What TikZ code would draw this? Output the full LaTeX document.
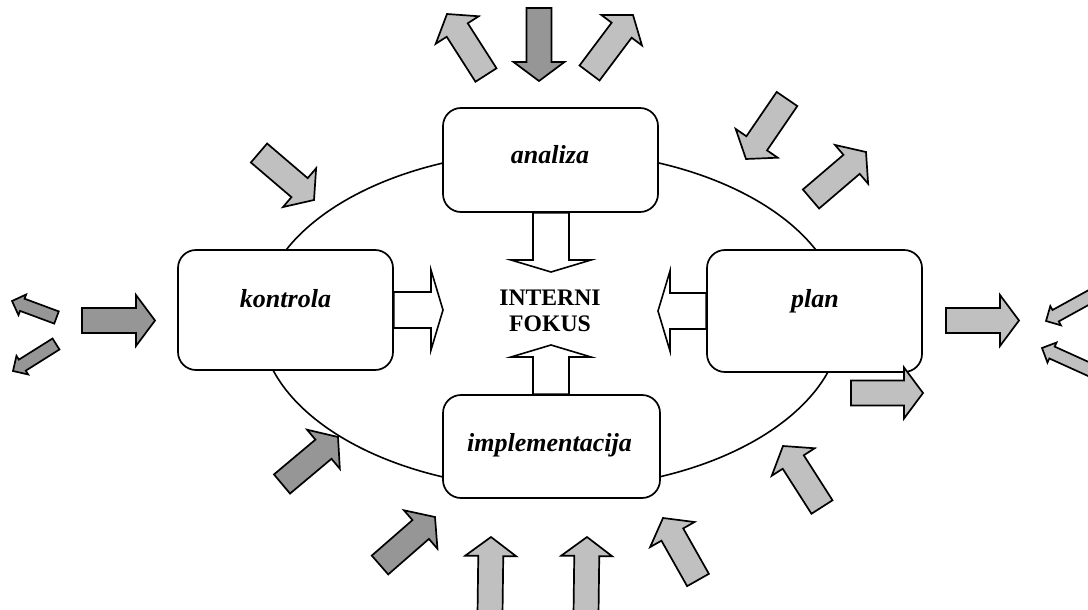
\documentclass[tikz,border=0pt]{standalone}
\usepackage{fontspec}
\setmainfont{Liberation Serif}
\usetikzlibrary{calc}
\definecolor{lightfill}{RGB}{192,192,192}
\definecolor{darkfill}{RGB}{150,150,150}

% block arrow: [style]{tail}{tip}{shaft half width}{head half width}{head length}
\newcommand\blockarrow[6][]{%
  \coordinate (bahead) at ($(#3)!#6!(#2)$);
  \draw[#1] ($(#2)!#4!90:(#3)$) -- ($(bahead)!#4!90:(#3)$) -- ($(bahead)!#5!90:(#3)$)
    -- (#3) -- ($(bahead)!#5!-90:(#3)$) -- ($(bahead)!#4!-90:(#3)$) -- ($(#2)!#4!-90:(#3)$) -- cycle;
}
\newcommand\bigarrow[3]{\blockarrow[#1]{#2}{#3}{12.5pt}{25.5pt}{19pt}}
\newcommand\smallarrow[3]{\blockarrow[#1]{#2}{#3}{6.5pt}{11pt}{11pt}}
\newcommand\focusarrow[2]{\blockarrow[hollow]{#1}{#2}{18pt}{40pt}{12pt}}

\tikzset{
  ring/.style={draw, line width=1.6pt},
  box/.style={draw, line width=1.7pt, rounded corners=18pt, fill=white,
    minimum width=215pt, inner sep=0pt},
  boxtext/.style={font=\fontsize{26}{31}\selectfont\bfseries\itshape,
    inner sep=0pt, anchor=base},
  focustext/.style={font=\fontsize{23.7}{26.6}\selectfont\bfseries,
    align=center, inner sep=0pt},
  light/.style={draw, fill=lightfill, line width=1.7pt, line join=miter},
  dark/.style={draw, fill=darkfill, line width=1.7pt, line join=miter},
  hollow/.style={draw, fill=white, line width=1.6pt, line join=miter},
}

\begin{document}
\begin{tikzpicture}[x=1pt, y=-1pt]
\useasboundingbox (0,0) rectangle (1088,610);
\clip (0,0) rectangle (1088,610);

% the cycle
\draw[ring] (551,320) ellipse [x radius=291pt, y radius=169pt];

% the four stages
\node[box, minimum height=104pt] (analiza) at (550.5,160) {};
\node[box, minimum height=120pt] (kontrola) at (285.5,310) {};
\node[box, minimum height=122pt] (plan) at (814.5,311) {};
\node[box, minimum height=103pt, minimum width=217pt] (impl) at (551.5,446.5) {};

\node[boxtext] (analiza-t) at (550,163.5) {analiza};
\node[boxtext] (kontrola-t) at (285.5,307) {kontrola};
\node[boxtext] (plan-t) at (815,307) {plan};
\node[boxtext] (impl-t) at (549.5,451) {implementacija};

% internal focus
\node[focustext] (fokus) at (550,311) {INTERNI\\FOKUS};
\coordinate (fN) at (551,272);
\coordinate (fW) at (443,310);
\coordinate (fE) at (658,311);
\coordinate (fS) at (551,345);
\focusarrow{analiza.south -| fN}{fN}
\focusarrow{kontrola.east}{fW}
\focusarrow{plan.west}{fE}
\focusarrow{impl.north -| fS}{fS}

% influences from the surroundings
\bigarrow{light}{486,75}{447,14}
\bigarrow{dark}{539,8}{539,81}
\bigarrow{light}{589.5,73}{633,15}
\bigarrow{light}{787,99}{746,159}
\bigarrow{light}{811,199}{866,152}
\bigarrow{light}{259,153}{314,200}

\bigarrow{dark}{82,320.5}{155,320.5}
\smallarrow{dark}{56.5,317.5}{12,301}
\smallarrow{dark}{56,344}{13,371}

\bigarrow{light}{946,320.5}{1019,320.5}
\bigarrow{light}{851,393}{923,393}
\smallarrow{light}{1095,294}{1046,321}
\smallarrow{light}{1095,372}{1042,348}

\bigarrow{dark}{282,484}{338,437}
\bigarrow{dark}{380,565}{435,517}
\bigarrow{light}{490,615}{491,537}
\bigarrow{light}{586,615}{587,537}
\bigarrow{light}{698,580}{663,518}
\bigarrow{light}{822,507}{783,446}
\end{tikzpicture}
\end{document}
